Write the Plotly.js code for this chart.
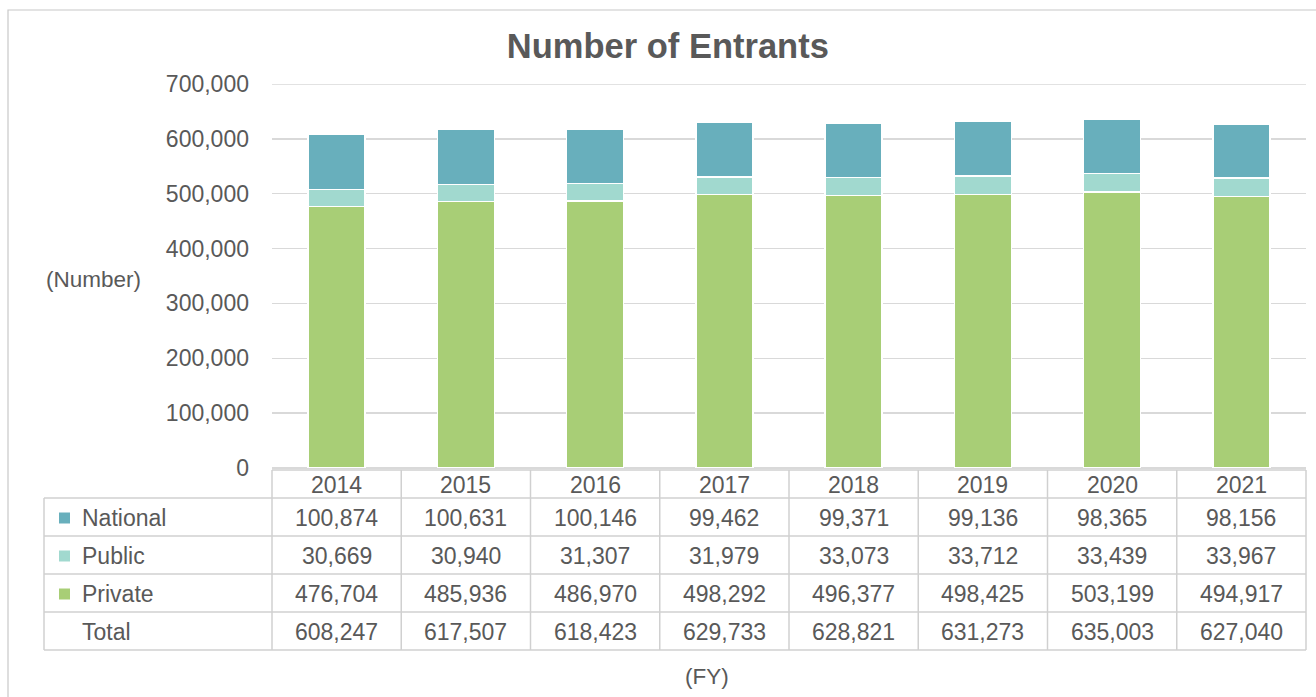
<!DOCTYPE html>
<html>
<head>
<meta charset="utf-8">
<script src="https://cdn.plot.ly/plotly-3.0.1.min.js"></script>
<style>
html,body{margin:0;padding:0;background:#fff;}
#chart{width:1316px;height:697px;}
</style>
</head>
<body>
<div id="chart"></div>
<script>
// ---- data ----
const years = ["2014","2015","2016","2017","2018","2019","2020","2021"];
const national = [100874,100631,100146,99462,99371,99136,98365,98156];
const publicU = [30669,30940,31307,31979,33073,33712,33439,33967];
const privateU = [476704,485936,486970,498292,496377,498425,503199,494917];
const totals = [608247,617507,618423,629733,628821,631273,635003,627040];
const seriesNames = ["National","Public","Private","Total"];
const yMax = 700000;

const cNational = "#68AFBC", cPublic = "#A1D9CF", cPrivate = "#A8CE76";
const txt = "#595959", gridC = "#D9D9D9", tblC = "#D0D0D0";
const FONT = "Liberation Sans, Arial, sans-serif";

// pixel geometry helpers
const L = 272, R = 1306, T = 84, B = 468;
const W = R - L, H = B - T;
const px = p => (p - L) / W;
const py = p => (B - p) / H;

const fmt = v => v.toLocaleString("en-US");

const traces = [
  {type:"bar", name:"Private", x:years, y:privateU, marker:{color:cPrivate, line:{color:"#fff", width:1.5}}},
  {type:"bar", name:"Public", x:years, y:publicU, marker:{color:cPublic, line:{color:"#fff", width:1.5}}},
  {type:"bar", name:"National", x:years, y:national, marker:{color:cNational, line:{color:"#fff", width:1.5}}}
];

const shapes = [];
const annotations = [];
const line = (x0,y0,x1,y1) => shapes.push({type:"line", xref:"paper", yref:"paper", x0:px(x0), y0:py(y0), x1:px(x1), y1:py(y1), line:{color:tblC, width:1.5}});

// outer chart frame
shapes.push({type:"rect", xref:"paper", yref:"paper", x0:px(8), y0:py(10), x1:px(1330), y1:py(720), line:{color:"#C8C8C8", width:1.2}, fillcolor:"rgba(0,0,0,0)", layer:"below"});
// top gridline at the range end (Plotly clips the edge gridline)
shapes.push({type:"line", xref:"paper", yref:"y", x0:0, x1:1, y0:yMax, y1:yMax, line:{color:gridC, width:1.5}, layer:"below"});

// table grid
const colW = W / years.length;
const rowTops = [470, 498, 536, 574, 612, 650];
line(L, 470, R, 470);
for (let i = 1; i < rowTops.length; i++) line(44, rowTops[i], R, rowTops[i]);
line(44, 498, 44, 650);
for (let k = 0; k <= years.length; k++) line(L + k*colW, 470, L + k*colW, 650);

const cellFont = {family:FONT, size:23, color:txt};
// header years (x = category index on the category axis)
const rowCenters = [485, 518, 556, 594, 632];
years.forEach((y, i) => annotations.push({xref:"x", yref:"paper", x:i, y:py(rowCenters[0]), xanchor:"center", yanchor:"middle", text:y, showarrow:false, font:cellFont}));

// rows
const rows = [national, publicU, privateU, totals];
const swatch = [cNational, cPublic, cPrivate, null];
rows.forEach((arr, r) => {
  const cy = rowCenters[r+1];
  annotations.push({xref:"paper", yref:"paper", x:px(80), y:py(cy), xanchor:"left", yanchor:"middle", text:seriesNames[r], showarrow:false, font:cellFont});
  if (swatch[r]) shapes.push({type:"rect", xref:"paper", yref:"paper", x0:px(59), x1:px(70), y0:py(cy+5.5), y1:py(cy-5.5), fillcolor:swatch[r], line:{width:0}});
  arr.forEach((v, i) => annotations.push({xref:"x", yref:"paper", x:i, y:py(cy), xanchor:"center", yanchor:"middle", text:fmt(v), showarrow:false, font:cellFont}));
});

// axis labels
annotations.push({xref:"paper", yref:"paper", x:px(93.5), y:py(279), xanchor:"center", yanchor:"middle", text:"(Number)", showarrow:false, font:{family:FONT, size:22.5, color:txt}});
annotations.push({xref:"paper", yref:"paper", x:px(707), y:py(676), xanchor:"center", yanchor:"middle", text:"(FY)", showarrow:false, font:{family:FONT, size:22.5, color:txt}});

const layout = {
  width:1316, height:697,
  margin:{l:L, r:1316-R, t:T, b:697-B, pad:0},
  paper_bgcolor:"#fff", plot_bgcolor:"#fff",
  barmode:"stack", bargap:0.56,
  showlegend:false,
  title:{text:"<b>Number of Entrants</b>", font:{family:FONT, size:34.5, color:txt}, x:0.5075, xanchor:"center", y:1-46/697, yanchor:"middle"},
  xaxis:{type:"category", range:[-0.5, years.length-0.5], autorange:false, showticklabels:false, showgrid:false, zeroline:false, showline:false, ticks:"", fixedrange:true},
  yaxis:{range:[0,yMax], autorange:false, dtick:100000, tick0:0, tickformat:",", showgrid:true, gridcolor:gridC, gridwidth:1.5,
         zeroline:true, zerolinecolor:gridC, zerolinewidth:1.5, showline:false, ticks:"", ticklabelstandoff:22,
         tickfont:{family:FONT, size:23, color:txt}, fixedrange:true},
  shapes:shapes, annotations:annotations,
  font:{family:FONT, color:txt}
};

Plotly.newPlot("chart", traces, layout, {displayModeBar:false, staticPlot:true});
</script>
</body>
</html>
